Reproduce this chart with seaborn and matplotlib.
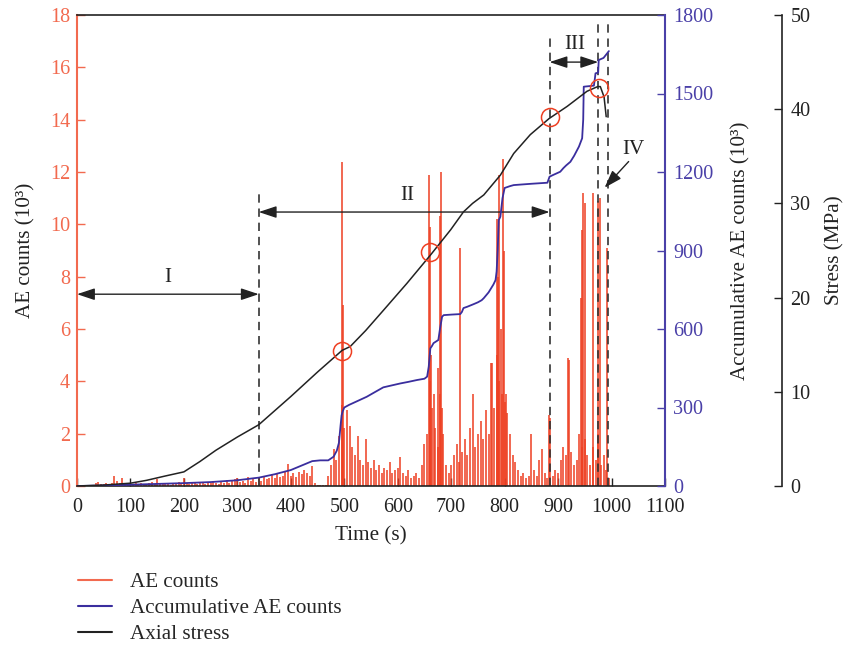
import matplotlib
matplotlib.use("Agg")
import matplotlib.pyplot as plt
import seaborn as sns
import numpy as np
import pandas as pd
from matplotlib.lines import Line2D

sns.set_style("ticks")
plt.rcParams['font.family'] = ['Liberation Serif', 'DejaVu Serif']

RED = '#EE3F22'
RED_AX = '#F26A4F'
BLUE = '#3A2E9E'
BLUE_AX = '#4A40A8'
DARK = '#222222'

# ---------------- data ----------------
# AE counts (10^3) at 5 s steps, 0..1000 s
ae_base_time = list(range(0, 1005, 5))
ae_base = [
    0.02, 0.03, 0.03, 0.04, 0.05, 0.05, 0.04, 0.10, 0.15, 0.08, 0.06, 0.10, 0.08, 0.12, 0.40, 0.18, 0.10, 0.30, 0.10, 0.06,
    0.08, 0.05, 0.10, 0.06, 0.12, 0.08, 0.05, 0.10, 0.15, 0.07, 0.25, 0.10, 0.06, 0.08, 0.12, 0.05, 0.10, 0.08, 0.15, 0.10,
    0.30, 0.12, 0.08, 0.10, 0.15, 0.06, 0.10, 0.12, 0.08, 0.15, 0.10, 0.20, 0.12, 0.08, 0.15, 0.10, 0.22, 0.12, 0.18, 0.25,
    0.30, 0.15, 0.20, 0.12, 0.35, 0.18, 0.25, 0.15, 0.30, 0.20, 0.35, 0.25, 0.30, 0.45, 0.30, 0.50, 0.35, 0.40, 0.55, 0.85,
    0.40, 0.50, 0.35, 0.55, 0.45, 0.60, 0.50, 0.40, 0.75, 0.10, 0.03, 0.02, 0.03, 0.05, 0.40, 0.80, 1.40, 1.00, 1.90, 3.10,
    2.20, 2.90, 2.30, 1.50, 1.20, 1.90, 1.00, 0.80, 1.80, 0.90, 0.70, 1.00, 0.60, 0.80, 0.50, 0.70, 0.60, 0.90, 0.50, 0.60,
    0.70, 1.10, 0.50, 0.40, 0.60, 0.30, 0.40, 0.50, 0.30, 0.80, 1.60, 2.00, 4.00, 3.00, 2.20, 1.50, 3.50, 2.00, 0.80, 0.50,
    0.80, 1.20, 1.60, 0.90, 1.30, 1.80, 1.20, 2.20, 3.50, 1.50, 2.00, 2.50, 1.80, 2.90, 2.00, 4.70, 3.00, 5.00, 4.00, 3.50,
    3.20, 2.80, 2.00, 1.20, 0.90, 0.60, 0.40, 0.50, 0.30, 0.40, 2.00, 0.60, 0.40, 1.00, 1.40, 0.50, 0.30, 2.60, 0.40, 0.60,
    0.50, 1.00, 1.50, 1.20, 4.80, 1.30, 0.80, 1.00, 2.00, 1.50, 1.80, 1.20, 0.80, 1.50, 1.00, 2.00, 0.80, 1.20, 0.60, 0.30,
    0.00,
]
# large AE bursts
ae_spike_time = [496, 497, 659, 661, 663, 667, 676, 679, 681, 683, 717, 777, 786, 788, 790, 793, 797, 799, 802,
                 883, 918, 942, 945, 947, 950, 966, 975, 978, 991]
ae_spike = [12.4, 6.9, 11.9, 9.9, 5.0, 3.5, 4.5, 10.3, 12.0, 3.0, 9.1, 4.7, 10.2, 8.0, 11.9, 6.0, 12.5, 9.0, 3.5,
            2.7, 4.9, 7.2, 9.8, 11.2, 10.8, 11.2, 10.9, 11.0, 9.1]

# Accumulative AE counts (10^3)
acc_time = [0, 50, 100, 150, 200, 250, 300, 340, 370, 400, 420, 440, 455, 470, 480, 486, 490, 493, 495, 497,
            500, 509, 525, 542, 560, 573, 590, 605, 620, 636, 650, 655, 658, 661, 664, 667, 676, 679, 683, 686,
            700, 717, 720, 723, 730, 742, 750, 757, 761, 770, 779, 783, 785, 787, 789, 792, 796, 800, 810, 817,
            850, 880, 884, 890, 904, 910, 915, 923, 930, 939, 945, 947, 948, 967, 969, 970, 975, 976, 985, 992, 995]
acc_vals = [0, 2, 5, 8, 11, 15, 22, 32, 45, 61, 78, 95, 98, 98, 112, 135, 165, 230, 270, 285,
            300, 310, 325, 341, 362, 377, 385, 392, 398, 405, 410, 418, 456, 526, 535, 546, 558, 600, 647, 653,
            655, 657, 665, 680, 685, 695, 702, 710, 718, 740, 770, 787, 820, 902, 1016, 1029, 1100, 1139, 1146, 1150,
            1155, 1159, 1182, 1188, 1201, 1215, 1225, 1239, 1262, 1297, 1329, 1400, 1526, 1530, 1560, 1577, 1580, 1628, 1636, 1654, 1662]

# Axial stress (MPa)
stress_time = [0, 50, 100, 130, 165, 200, 230, 260, 300, 340, 370, 400, 450, 496, 511, 540, 574, 617, 661,
               699, 723, 740, 761, 792, 817, 848, 883, 917, 954, 974, 979, 986, 990]
stress_vals = [0, 0.1, 0.3, 0.6, 1.06, 1.5, 2.6, 3.8, 5.2, 6.5, 8.0, 9.5, 12.1, 14.4, 14.8, 16.5, 18.7, 21.5, 24.5,
               27.2, 29.1, 30.0, 30.9, 33.0, 35.3, 37.3, 39.0, 40.3, 41.9, 42.4, 42.4, 41.3, 39.2]

# marked points on stress curve
mark_time = [496, 661, 884, 977]
mark_stress = [14.3, 24.8, 39.2, 42.3]

# stage boundaries (time, top in AE units)
bound_time = [340, 884, 975, 993]
bound_top = [11.3, 17.2, 17.7, 17.8]

x_ticks = list(range(0, 1101, 100))
ae_ticks = list(range(0, 19, 2))
acc_ticks = list(range(0, 1801, 300))
stress_ticks = list(range(0, 51, 10))

# ---------------- figure ----------------
fig = plt.figure(figsize=(8.47, 6.48), dpi=100)
ax = fig.add_axes([77 / 847, 1 - 486 / 648, 588 / 847, 471 / 648])
ax2 = ax.twinx()
ax3 = ax.twinx()

FS = 14.5
FL = 15.2

# AE counts
ax.vlines(ae_base_time, 0, ae_base, color=RED, lw=1.1)
ax.vlines(ae_spike_time, 0, ae_spike, color=RED, lw=1.1)

# accumulative
sns.lineplot(x=acc_time, y=acc_vals, ax=ax2, color=BLUE, lw=1.3, estimator=None, sort=False)
# stress
sns.lineplot(x=stress_time, y=stress_vals, ax=ax3, color=DARK, lw=1.1, estimator=None, sort=False)
ax3.plot(mark_time, mark_stress, 'o', ms=13, mfc='none', mec=RED, mew=1.1)

ax.set_xlim(0, 1100)
ax.set_ylim(0, 18)
ax2.set_ylim(0, 1800)
ax3.set_ylim(0, 50)

# boundaries
for t, h in zip(bound_time, bound_top):
    ax.plot([t, t], [0, h], ls=(0, (5, 3.5)), color='#333333', lw=1.2)

arrow_kw = dict(arrowstyle='<|-|>,head_length=0.9,head_width=0.3', color=DARK, lw=1.0,
                shrinkA=0, shrinkB=0, mutation_scale=12)
ax.annotate('', xy=(0, 7.33), xytext=(340, 7.33), arrowprops=arrow_kw)
ax.annotate('', xy=(340, 10.47), xytext=(884, 10.47), arrowprops=arrow_kw)
ax.annotate('', xy=(884, 16.2), xytext=(975, 16.2), arrowprops=arrow_kw)
ax.annotate('', xy=(987, 11.4), xytext=(1032, 12.4),
            arrowprops=dict(arrowstyle='-|>,head_length=0.9,head_width=0.3', color=DARK, lw=1.0,
                            shrinkA=0, shrinkB=0, mutation_scale=12))
ax.text(170, 7.6, 'I', fontsize=FL, ha='center', va='bottom', color=DARK)
ax.text(617, 10.75, 'II', fontsize=FL, ha='center', va='bottom', color=DARK)
ax.text(932, 16.5, 'III', fontsize=FL, ha='center', va='bottom', color=DARK)
ax.text(1040, 12.5, 'IV', fontsize=FL, ha='center', va='bottom', color=DARK)

# axes styling
ax.set_xticks(x_ticks)
ax.set_yticks(ae_ticks)
ax2.set_yticks(acc_ticks)
ax3.set_yticks(stress_ticks)

ax.tick_params(axis='x', direction='in', length=6, width=1.0, colors=DARK, labelsize=FS, pad=8.5)
ax.tick_params(axis='y', direction='in', length=6, width=1.0, colors=RED_AX, labelsize=FS, pad=5)
ax2.tick_params(axis='y', direction='in', length=6, width=1.0, colors=BLUE_AX, labelsize=FS, pad=6)
ax3.tick_params(axis='y', direction='in', length=6, width=1.0, colors=DARK, labelsize=FS, pad=6)

for s in ['top', 'bottom']:
    ax.spines[s].set_color(DARK)
    ax.spines[s].set_linewidth(1.2)
ax.spines['left'].set_color(RED_AX)
ax.spines['left'].set_linewidth(1.5)
ax.spines['right'].set_visible(False)

for s in ['top', 'bottom', 'left']:
    ax2.spines[s].set_visible(False)
    ax3.spines[s].set_visible(False)
ax2.spines['right'].set_color(BLUE_AX)
ax2.spines['right'].set_linewidth(1.5)
ax3.spines['right'].set_position(('axes', 1.199))
ax3.spines['right'].set_color(DARK)
ax3.spines['right'].set_linewidth(1.2)

ax.set_xlabel('Time (s)', fontsize=FL, color=DARK, labelpad=7)
ax.set_ylabel('AE counts (10³)', fontsize=FL, color=DARK)
ax2.set_ylabel('Accumulative AE counts (10³)', fontsize=FL, color=DARK)
ax3.set_ylabel('Stress (MPa)', fontsize=FL, color=DARK)
ax.yaxis.set_label_coords(-0.07, 0.5)
ax2.yaxis.set_label_coords(1.113, 0.5)
ax3.yaxis.set_label_coords(1.272, 0.5)

# legend
handles = [Line2D([], [], color=RED_AX, lw=1.5),
           Line2D([], [], color=BLUE, lw=1.5),
           Line2D([], [], color=DARK, lw=1.5)]
labels = ['AE counts', 'Accumulative AE counts', 'Axial stress']
fig.legend(handles, labels, loc='upper left', bbox_to_anchor=(0.082, 0.130), frameon=False,
           fontsize=FL, handlelength=1.6, handletextpad=0.85, labelspacing=0.3, borderaxespad=0)

fig.savefig('out.png', dpi=100)
